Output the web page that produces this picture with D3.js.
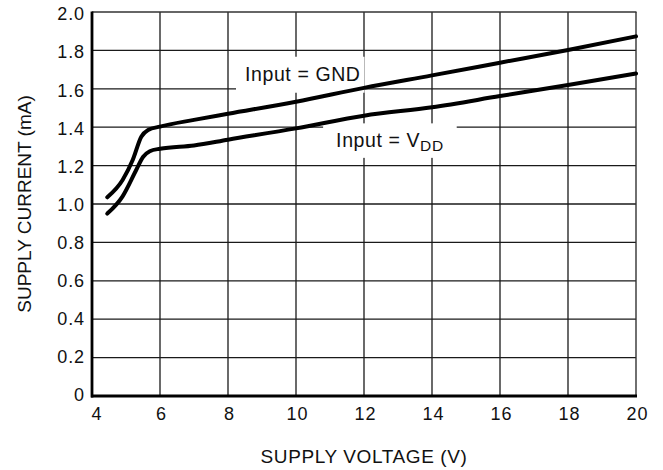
<!DOCTYPE html>
<html><head><meta charset="utf-8">
<script src="https://cdn.jsdelivr.net/npm/d3@7"></script>
<style>
html,body{margin:0;padding:0;background:#fff;}
svg text{font-family:"Liberation Sans",Arial,Helvetica,sans-serif;fill:#111;}
</style></head>
<body>
<svg id="chart" width="663" height="470"></svg>
<script>
// ---- data ----
const xTicks = [4, 6, 8, 10, 12, 14, 16, 18, 20];
const yTicks = [0, 0.2, 0.4, 0.6, 0.8, 1.0, 1.2, 1.4, 1.6, 1.8, 2.0];
const yTickLabels = ["0", "0.2", "0.4", "0.6", "0.8", "1.0", "1.2", "1.4", "1.6", "1.8", "2.0"];
const gndVoltage = [4.45, 4.9, 5.2, 5.45, 5.65, 6.0, 7.0, 8.0, 10, 12, 14, 16, 18, 20];
const gndCurrent = [1.035, 1.125, 1.23, 1.35, 1.385, 1.403, 1.438, 1.47, 1.533, 1.605, 1.67, 1.736, 1.802, 1.873];
const vddVoltage = [4.45, 4.9, 5.3, 5.5, 5.7, 6.0, 7.0, 8.0, 10, 12, 14, 16, 18, 20];
const vddCurrent = [0.95, 1.04, 1.177, 1.245, 1.275, 1.288, 1.305, 1.335, 1.394, 1.46, 1.504, 1.562, 1.62, 1.68];
const xTitle = "SUPPLY VOLTAGE (V)";
const yTitle = "SUPPLY CURRENT (mA)";

// ---- layout ----
const svg = d3.select("#chart");
const L = 92, R = 636, T = 12, B = 396;
const x = d3.scaleLinear().domain([4, 20]).range([L, R]);
const y = d3.scaleLinear().domain([0, 2]).range([B, T]);
const yLab = d3.scaleLinear().domain([0, 2]).range([B - 1, T + 2]);

// grid
const g = svg.append("g");
g.selectAll(".vg").data(xTicks.filter(d => d > 4 && d < 20)).enter().append("line")
  .attr("x1", d => x(d)).attr("x2", d => x(d)).attr("y1", T).attr("y2", B)
  .attr("stroke", "#1a1a1a").attr("stroke-width", 1.3);
g.selectAll(".hg").data(yTicks.filter(d => d > 0 && d < 2)).enter().append("line")
  .attr("x1", L).attr("x2", R).attr("y1", d => y(d)).attr("y2", d => y(d))
  .attr("stroke", "#1a1a1a").attr("stroke-width", 1.3);
// top and right frame
g.append("line").attr("x1", L).attr("x2", R + 0.5).attr("y1", T).attr("y2", T).attr("stroke", "#333").attr("stroke-width", 1.4);
g.append("line").attr("x1", R).attr("x2", R).attr("y1", T).attr("y2", B).attr("stroke", "#333").attr("stroke-width", 1.4);

// labels with white backgrounds
function label(parts, xv, yv, pad) {
  const grp = svg.append("g");
  const rect = grp.append("rect").attr("fill", "#fff");
  const t = grp.append("text").attr("x", x(xv)).attr("y", y(yv))
    .style("font-size", "19.5px").style("letter-spacing", "0.6px");
  parts.forEach(p => {
    const ts = t.append("tspan").text(p.text);
    if (p.sub) ts.style("font-size", "15.5px").attr("dy", 3.5);
  });
  const bb = t.node().getBBox();
  rect.attr("x", bb.x - pad[0]).attr("y", bb.y - pad[1])
      .attr("width", bb.width + pad[0] + pad[2]).attr("height", bb.height + pad[1] + pad[3]);
}
label([{text: "Input = GND"}], 8.5, 1.642, [9, 6, 4, 8]);
label([{text: "Input = V"}, {text: "DD", sub: true}], 11.18, 1.295, [13, 6, 13, 4]);

// curves
const line = d3.line().x(d => x(d[0])).y(d => y(d[1])).curve(d3.curveMonotoneX);
[[gndVoltage, gndCurrent], [vddVoltage, vddCurrent]].forEach(([vx, vy]) => {
  svg.append("path").datum(vx.map((v, i) => [v, vy[i]]))
    .attr("d", line).attr("fill", "none").attr("stroke", "#000")
    .attr("stroke-width", 4).attr("stroke-linecap", "round").attr("stroke-linejoin", "round");
});

// axes (thick left and bottom)
svg.append("line").attr("x1", L).attr("x2", L).attr("y1", T - 0.5).attr("y2", B + 1.5).attr("stroke", "#000").attr("stroke-width", 2.8);
svg.append("line").attr("x1", L - 1).attr("x2", R + 1).attr("y1", B).attr("y2", B).attr("stroke", "#000").attr("stroke-width", 2.8);

// tick labels
svg.selectAll(".xl").data(xTicks).enter().append("text")
  .attr("x", d => x(d) + (d === 4 ? 5 : 1.5)).attr("y", 420)
  .attr("text-anchor", "middle").style("font-size", "18px").style("letter-spacing", "0.9px")
  .text(d => d);
svg.selectAll(".yl").data(yTicks).enter().append("text")
  .attr("x", 85).attr("y", d => yLab(d)).attr("dy", "0.35em")
  .attr("text-anchor", "end").style("font-size", "18px").style("letter-spacing", "0.9px")
  .text((d, i) => yTickLabels[i]);

// titles
svg.append("text").attr("x", x(12)).attr("y", 463).attr("text-anchor", "middle")
  .style("font-size", "19px").style("letter-spacing", "0.6px").text(xTitle);
svg.append("text").attr("transform", `translate(31,${(T + B) / 2}) rotate(-90)`)
  .attr("text-anchor", "middle").style("font-size", "19px").text(yTitle);
</script>
</body></html>
